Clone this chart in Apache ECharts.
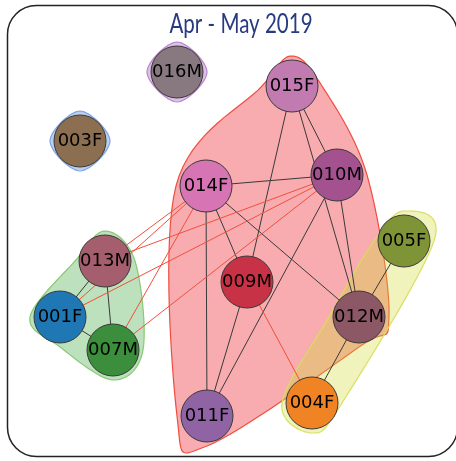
<!DOCTYPE html>
<html><head><meta charset="utf-8">
<script src="https://cdn.jsdelivr.net/npm/echarts@6/dist/echarts.min.js"></script>
<style>html,body{margin:0;padding:0;background:#fff}#c{width:456px;height:461px}</style>
</head><body><div id="c"></div>
<script>
// ---- data ----
const chartTitle = 'Apr - May 2019';
const nodeNames  = ['016M','003F','015F','014F','010M','013M','009M','005F','001F','007M','012M','004F','011F'];
const nodeX      = [177, 80, 292, 206, 337, 105, 247, 404, 60, 113, 359, 312, 207];
const nodeY      = [72, 141, 86, 186, 175, 261, 282, 241, 317, 350, 317, 403, 416];
const nodeColors = ['#887880','#8c6e50','#c27bb0','#d674b4','#a4528f','#a45e6e','#c83246','#7f9437','#1f77b4','#3b8e3b','#8d5866','#f08424','#9063a4'];
const blackLinks = [
  ['013M','001F'],['013M','007M'],['001F','007M'],
  ['015F','009M'],['015F','010M'],['015F','012M'],
  ['014F','010M'],['014F','009M'],['014F','011F'],['014F','012M'],
  ['010M','011F'],['010M','012M'],['009M','011F'],
  ['012M','005F'],['012M','004F']
];
const redLinks = [
  ['013M','014F'],['013M','010M'],['001F','014F'],['001F','010M'],
  ['007M','014F'],['007M','010M'],['009M','004F']
];
const groupRed    = ['015F','014F','010M','009M','011F','012M'];
const groupGreen  = ['013M','001F','007M'];
const groupYellow = ['005F','012M','004F'];
const groupPurple = ['016M'];
const groupBlue   = ['003F'];

// ---- styles ----
const hullGroups = [groupRed, groupGreen, groupYellow, groupPurple, groupBlue];
const hullFill   = ['rgba(238,48,58,0.40)','rgba(50,160,50,0.32)','rgba(210,220,50,0.33)','rgba(160,80,190,0.35)','rgba(60,120,210,0.35)'];
const hullStroke = ['rgba(240,70,55,0.95)','rgba(130,200,110,0.95)','rgba(215,222,90,0.95)','rgba(185,125,205,0.95)','rgba(120,160,225,0.95)'];

function idx(n){ return nodeNames.indexOf(n); }

function convexHull(pts){
  pts = pts.slice().sort((a,b)=>a[0]-b[0]||a[1]-b[1]);
  const cross=(o,a,b)=>(a[0]-o[0])*(b[1]-o[1])-(a[1]-o[1])*(b[0]-o[0]);
  const lower=[],upper=[];
  for(const p of pts){ while(lower.length>=2&&cross(lower[lower.length-2],lower[lower.length-1],p)<=0) lower.pop(); lower.push(p); }
  for(let i=pts.length-1;i>=0;i--){ const p=pts[i]; while(upper.length>=2&&cross(upper[upper.length-2],upper[upper.length-1],p)<=0) upper.pop(); upper.push(p); }
  upper.pop(); lower.pop();
  return lower.concat(upper);
}
function catmull(pts, seg){
  const out=[], n=pts.length;
  for(let i=0;i<n;i++){
    const p0=pts[(i-1+n)%n],p1=pts[i],p2=pts[(i+1)%n],p3=pts[(i+2)%n];
    for(let s=0;s<seg;s++){
      const t=s/seg,t2=t*t,t3=t2*t;
      const f=(a,b,c,d)=>0.5*((2*b)+(-a+c)*t+(2*a-5*b+4*c-d)*t2+(-a+3*b-3*c+d)*t3);
      out.push([f(p0[0],p1[0],p2[0],p3[0]),f(p0[1],p1[1],p2[1],p3[1])]);
    }
  }
  return out;
}

const PAD = 30;
const hullSeries = {
  type:'custom', coordinateSystem:'cartesian2d', z:1, silent:true, clip:false,
  data: hullGroups.map((g,i)=>[i,0]),
  renderItem(params, api){
    const gi = params.dataIndex;
    const pts=[];
    hullGroups[gi].forEach(n=>{
      const c = api.coord([nodeX[idx(n)], nodeY[idx(n)]]);
      pts.push([c[0]+PAD,c[1]],[c[0]-PAD,c[1]],[c[0],c[1]+PAD],[c[0],c[1]-PAD]);
    });
    const h = convexHull(pts);
    const poly = catmull(h, 16);
    return { type:'polygon', shape:{points:poly},
      style:{ fill:hullFill[gi], stroke:hullStroke[gi], lineWidth:1.2 } };
  }
};

const graphNodes = nodeNames.map((n,i)=>({
  name:n, value:[nodeX[i],nodeY[i]],
  itemStyle:{color:nodeColors[i], borderColor:'#3a3a3a', borderWidth:1}
}));
const graphLinks = blackLinks.map(l=>({source:l[0],target:l[1],lineStyle:{color:'#3a3a3a',width:1,opacity:1}}))
  .concat(redLinks.map(l=>({source:l[0],target:l[1],lineStyle:{color:'#f0503c',width:1,opacity:1}})));

const chart = echarts.init(document.getElementById('c'), null, {renderer:'canvas'});
chart.setOption({
  animation:false,
  backgroundColor:'#fff',
  grid:{left:0,right:0,top:0,bottom:0},
  xAxis:{type:'value',min:0,max:456,show:false},
  yAxis:{type:'value',min:0,max:461,inverse:true,show:false},
  graphic:[
    {type:'rect', shape:{x:7.5,y:5.5,width:450,height:451,r:29}, style:{fill:null,stroke:'#222',lineWidth:1.5}, z:0},
    {type:'text', x:241, y:25, style:{text:chartTitle, fill:'#283a80', font:'26px Lato', textAlign:'center', textVerticalAlign:'middle'}, scaleX:0.79, z:10}
  ],
  series:[
    hullSeries,
    {
      type:'graph', coordinateSystem:'cartesian2d', z:3,
      symbol:'circle', symbolSize:52,
      data:graphNodes, links:graphLinks,
      label:{show:true, position:'inside', color:'#000', fontFamily:'DejaVu Sans', fontSize:18},
      lineStyle:{curveness:0},
      emphasis:{disabled:true}
    }
  ]
});
</script></body></html>
